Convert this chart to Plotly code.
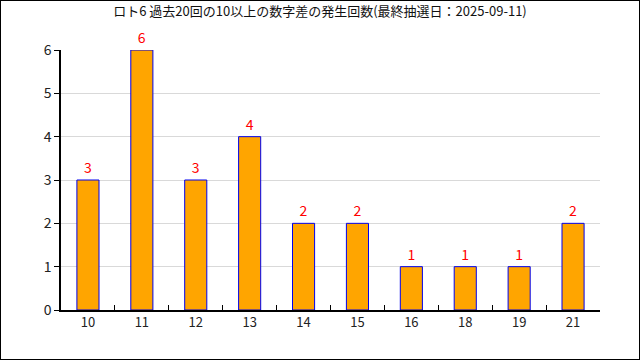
import plotly.graph_objects as go

categories = ["10", "11", "12", "13", "14", "15", "16", "18", "19", "21"]
counts = [3, 6, 3, 4, 2, 2, 1, 1, 1, 2]
title_text = "ロト6 過去20回の10以上の数字差の発生回数(最終抽選日：2025-09-11)"

font_main = "Noto Sans CJK JP, DejaVu Sans, sans-serif"

fig = go.Figure(
    go.Bar(
        x=categories,
        y=counts,
        marker=dict(color="#FFA500", line=dict(color="#0000EE", width=1)),
        width=0.41,
        text=[str(c) for c in counts],
        textposition="outside",
        textfont=dict(color="#FF0000", size=14, family=font_main),
        cliponaxis=False,
    )
)

fig.update_layout(
    width=640,
    height=360,
    paper_bgcolor="white",
    plot_bgcolor="white",
    margin=dict(l=61, r=40, t=50, b=50),
    showlegend=False,
    title=dict(
        text=title_text,
        x=0.5,
        xanchor="center",
        y=0.967,
        yanchor="middle",
        font=dict(size=13, color="#111111", family=font_main),
    ),
    font=dict(family=font_main, color="#222222"),
    shapes=[
        dict(type="rect", xref="paper", yref="paper",
             x0=-61/539, x1=1 + 40/539,
             y0=-50/260, y1=1 + 50/260,
             line=dict(color="black", width=2),
             fillcolor="rgba(0,0,0,0)", layer="below"),
    ],
)

fig.update_xaxes(
    type="category",
    showline=True,
    linecolor="black",
    linewidth=1.5,
    ticks="inside",
    ticklen=5,
    tickcolor="black",
    tickson="boundaries",
    showgrid=False,
    tickfont=dict(size=13, family=font_main, color="#222222"),
)

fig.update_yaxes(
    range=[0, 6],
    dtick=1,
    showline=True,
    linecolor="black",
    linewidth=1.5,
    ticks="outside",
    ticklen=5,
    tickcolor="black",
    showgrid=True,
    gridcolor="#D9D9D9",
    gridwidth=1,
    zeroline=False,
    tickfont=dict(size=14, family=font_main, color="#222222"),
)

fig.write_html(
    "out.html",
    config={"displayModeBar": False},
    post_script="document.body.style.margin='0';document.body.style.overflow='hidden';",
)
